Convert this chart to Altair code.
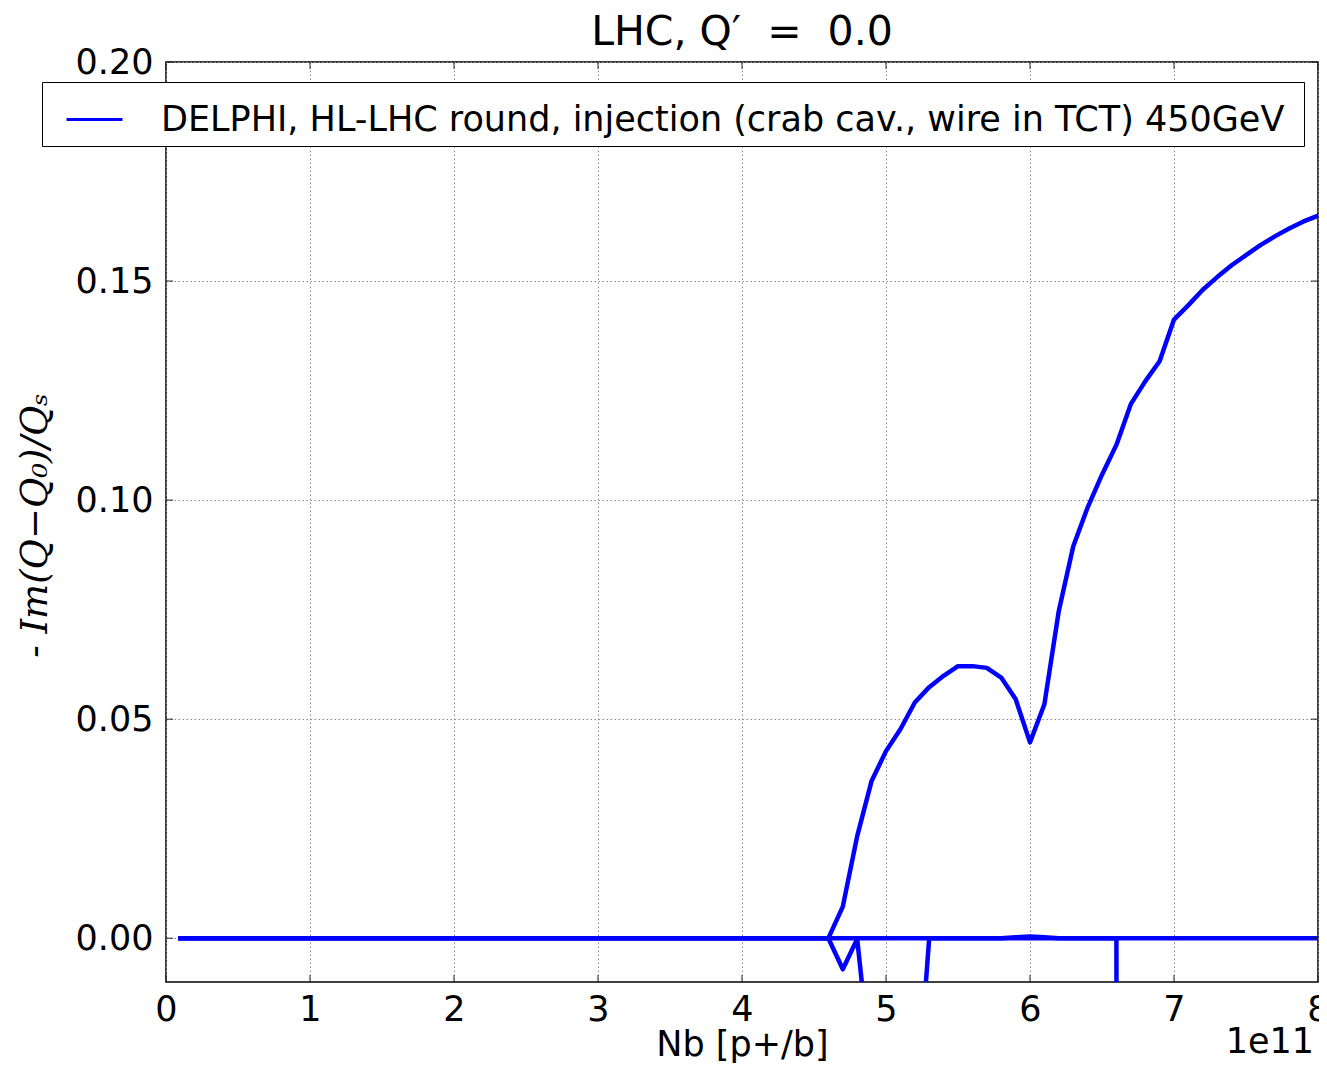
import altair as alt
import pandas as pd

# ---------------- data ----------------
NB = [0.1, 0.2, 0.3, 0.4, 0.5, 0.6, 0.7, 0.8, 0.9, 1.0,
      1.1, 1.2, 1.3, 1.4, 1.5, 1.6, 1.7, 1.8, 1.9, 2.0,
      2.1, 2.2, 2.3, 2.4, 2.5, 2.6, 2.7, 2.8, 2.9, 3.0,
      3.1, 3.2, 3.3, 3.4, 3.5, 3.6, 3.7, 3.8, 3.9, 4.0,
      4.1, 4.2, 4.3, 4.4, 4.5, 4.6, 4.7, 4.8, 4.9, 5.0,
      5.1, 5.2, 5.3, 5.4, 5.5, 5.6, 5.7, 5.8, 5.9, 6.0,
      6.1, 6.2, 6.3, 6.4, 6.5, 6.6, 6.7, 6.8, 6.9, 7.0,
      7.1, 7.2, 7.3, 7.4, 7.5, 7.6, 7.7, 7.8, 7.9, 8.0]

# unstable mode (rises after 4.6e11)
MODE_A = [0.0, 0.0, 0.0, 0.0, 0.0, 0.0, 0.0, 0.0, 0.0, 0.0,
          0.0, 0.0, 0.0, 0.0, 0.0, 0.0, 0.0, 0.0, 0.0, 0.0,
          0.0, 0.0, 0.0, 0.0, 0.0, 0.0, 0.0, 0.0, 0.0, 0.0,
          0.0, 0.0, 0.0, 0.0, 0.0, 0.0, 0.0, 0.0, 0.0, 0.0,
          0.0, 0.0, 0.0, 0.0, 0.0, 0.0, 0.0072, 0.0233, 0.0359, 0.0427,
          0.0477, 0.0538, 0.0573, 0.0599, 0.0621, 0.0621, 0.0617, 0.0595, 0.0546, 0.0447,
          0.0534, 0.0747, 0.0894, 0.0983, 0.1058, 0.1126, 0.1219, 0.1271, 0.1317, 0.1412,
          0.1445, 0.1480, 0.1509, 0.1536, 0.1559, 0.1582, 0.1602, 0.1620, 0.1636, 0.1649]

# damped mode dipping below the axis (ends at 6.7e11)
MODE_B = [0.0, 0.0, 0.0, 0.0, 0.0, 0.0, 0.0, 0.0, 0.0, 0.0,
          0.0, 0.0, 0.0, 0.0, 0.0, 0.0, 0.0, 0.0, 0.0, 0.0,
          0.0, 0.0, 0.0, 0.0, 0.0, 0.0, 0.0, 0.0, 0.0, 0.0,
          0.0, 0.0, 0.0, 0.0, 0.0, 0.0, 0.0, 0.0, 0.0, 0.0,
          0.0, 0.0, 0.0, 0.0, 0.0, 0.0, -0.0071, -0.0002, -0.031, -0.06,
          -0.065, -0.044, 0.0, 0.0, 0.0, 0.0, 0.0, 0.0, 0.0, 0.0,
          0.0, 0.0, 0.0, 0.0, 0.0, 0.0, -2.0]

# mode staying at zero
MODE_C = [0.0, 0.0, 0.0, 0.0, 0.0, 0.0, 0.0, 0.0, 0.0, 0.0,
          0.0, 0.0, 0.0, 0.0, 0.0, 0.0, 0.0, 0.0, 0.0, 0.0,
          0.0, 0.0, 0.0, 0.0, 0.0, 0.0, 0.0, 0.0, 0.0, 0.0,
          0.0, 0.0, 0.0, 0.0, 0.0, 0.0, 0.0, 0.0, 0.0, 0.0,
          0.0, 0.0, 0.0, 0.0, 0.0, 0.0, 0.0, 0.0, 0.0, 0.0,
          0.0, 0.0, 0.0, 0.0, 0.0, 0.0, 0.0, 0.0, 0.0002, 0.0004,
          0.0002, 0.0, 0.0, 0.0, 0.0, 0.0, 0.0, 0.0, 0.0, 0.0,
          0.0, 0.0, 0.0, 0.0, 0.0, 0.0, 0.0, 0.0, 0.0, 0.0]

LABEL = "DELPHI, HL-LHC round, injection (crab cav., wire in TCT) 450GeV"
X_TICKS = [0, 1, 2, 3, 4, 5, 6, 7, 8]
Y_TICKS = [0.0, 0.05, 0.10, 0.15, 0.20]
TITLE = "LHC, Q\u2032\u00a0 =\u00a0 0.0"
X_TITLE = "Nb [p+/b]"
Y_TITLE = "- Im(Q\u2212Q\u2080)/Q\u209b"
OFFSET_TEXT = ["1e11"]

# ---------------- build table ----------------
rows = []
for name, vals in (("A", MODE_A), ("B", MODE_B), ("C", MODE_C)):
    for x, y in zip(NB, vals):
        rows.append({"nb": x, "val": y, "mode": name, "label": LABEL})
df = pd.DataFrame(rows)

W, H = 1152, 920
xs = alt.Scale(domain=[0, 8], nice=False, zero=False)
ys = alt.Scale(domain=[-0.01, 0.20], nice=False, zero=False)

X_AXIS = alt.Axis(values=X_TICKS, format="d", title=X_TITLE, labelFlush=False)
Y_AXIS = alt.Axis(values=Y_TICKS, format=".2f", title=Y_TITLE, labelFlush=False)

lines = alt.Chart(df).mark_line(
    clip=True, strokeWidth=4.5, strokeCap="square", strokeJoin="round"
).encode(
    x=alt.X("nb:Q", scale=xs, axis=X_AXIS),
    y=alt.Y("val:Q", scale=ys, axis=Y_AXIS),
    color=alt.Color("label:N",
                    scale=alt.Scale(domain=[LABEL], range=["#0000ff"]),
                    legend=alt.Legend(title=None, orient="none", legendX=-124, legendY=20,
                                      labelFont="DejaVu Sans", labelFontSize=35,
                                      labelColor="black", labelLimit=3000,
                                      symbolType="stroke", symbolSize=3136,
                                      symbolStrokeWidth=3, symbolOffset=15,
                                      labelOffset=37, padding=8,
                                      labelExpr="datum.label + '\u00a0\u200b'",
                                      strokeColor="black", fillColor="white")),
    detail="mode:N",
)

ytdf = pd.DataFrame({"v": Y_TICKS})
xtdf = pd.DataFrame({"v": X_TICKS})
tick_style = dict(color="#222222", strokeWidth=1)
yt_left = alt.Chart(ytdf).mark_rule(**tick_style).encode(
    y=alt.Y("v:Q", scale=ys, axis=Y_AXIS), x=alt.value(0), x2=alt.value(7))
yt_right = alt.Chart(ytdf).mark_rule(**tick_style).encode(
    y=alt.Y("v:Q", scale=ys, axis=Y_AXIS), x=alt.value(W - 7), x2=alt.value(W))
xt_bottom = alt.Chart(xtdf).mark_rule(**tick_style).encode(
    x=alt.X("v:Q", scale=xs, axis=X_AXIS), y=alt.value(H - 7), y2=alt.value(H))
xt_top = alt.Chart(xtdf).mark_rule(**tick_style).encode(
    x=alt.X("v:Q", scale=xs, axis=X_AXIS), y=alt.value(0), y2=alt.value(7))

offset_txt = alt.Chart(pd.DataFrame({"t": OFFSET_TEXT})).mark_text(
    align="right", baseline="alphabetic", font="DejaVu Sans", fontSize=35, color="black"
).encode(text="t:N", x=alt.value(W - 4), y=alt.value(991))

chart = alt.layer(lines, yt_left, yt_right, xt_bottom, xt_top, offset_txt).properties(
    width=W, height=H,
    title=alt.TitleParams(TITLE, dy=24),
    padding={"left": 158, "top": 54, "right": 1, "bottom": 81},
    autosize=alt.AutoSizeParams(type="none"),
).configure_axis(
    grid=True, gridColor="#8c8c8c", gridDash=[1.5, 2.5], gridWidth=1,
    ticks=False, domain=False,
    labelFont="DejaVu Sans", labelFontSize=35, labelColor="black",
    titleColor="black", titleFontWeight="normal",
).configure_axisX(
    labelPadding=10, titleFont="DejaVu Sans", titleFontSize=35,
    titleBaseline="alphabetic", titleY=73,
).configure_axisY(
    labelPadding=13, titleFont="DejaVu Serif", titleFontStyle="italic",
    titleFontSize=37, titleBaseline="alphabetic", titleX=-120, titleY=463,
).configure_view(
    stroke="black", strokeWidth=1.5,
).configure_title(
    font="DejaVu Sans", fontSize=41, fontWeight="normal", color="black",
    baseline="alphabetic", offset=15,
)

chart.save("out.html", embed_options={"renderer": "svg", "actions": False})
